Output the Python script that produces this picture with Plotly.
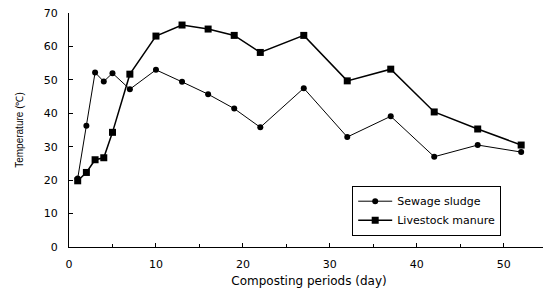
import plotly.graph_objects as go

days = [1, 2, 3, 4, 5, 7, 10, 13, 16, 19, 22, 27, 32, 37, 42, 47, 52]
sewage_sludge = [20.5, 36.3, 52.2, 49.5, 52.0, 47.2, 53.0, 49.4, 45.7, 41.4, 35.8, 47.5, 32.9, 39.1, 27.0, 30.5, 28.4]
livestock_manure = [19.8, 22.3, 26.1, 26.7, 34.3, 51.7, 63.1, 66.4, 65.2, 63.3, 58.2, 63.3, 49.7, 53.2, 40.4, 35.3, 30.5]

x_ticks = [0, 10, 20, 30, 40, 50]
y_ticks = [0, 10, 20, 30, 40, 50, 60, 70]

fig = go.Figure()
fig.add_trace(go.Scatter(
    x=days, y=sewage_sludge, name="Sewage sludge", mode="lines+markers",
    line=dict(color="black", width=1),
    marker=dict(symbol="circle", size=6, color="black"),
))
fig.add_trace(go.Scatter(
    x=days, y=livestock_manure, name="Livestock manure", mode="lines+markers",
    line=dict(color="black", width=1.5),
    marker=dict(symbol="square", size=7, color="black"),
))

font_family = "DejaVu Sans, Arial, sans-serif"
fig.update_layout(
    width=543, height=284,
    margin=dict(l=61, r=2, t=5, b=45),
    paper_bgcolor="white", plot_bgcolor="white",
    font=dict(family=font_family, color="black", size=11),
    showlegend=True,
    legend=dict(
        x=0.59, y=0.262, xanchor="left", yanchor="top",
        bordercolor="black", borderwidth=1, bgcolor="white",
        font=dict(size=11), tracegroupgap=0, itemwidth=34,
    ),
    xaxis=dict(
        range=[0, 55.2], tickvals=x_ticks, ticks="inside", ticklen=4,
        tickcolor="black", showline=True, linecolor="black", linewidth=1,
        showgrid=False, zeroline=False, automargin=False,
        ticklabelstandoff=7, ticklabeloverflow="allow",
        minor=dict(dtick=5, tick0=0, ticks="inside", ticklen=3, tickcolor="black"),
        title=dict(text="Composting periods (day)", font=dict(size=12), standoff=6),
        tickfont=dict(size=11),
    ),
    yaxis=dict(
        range=[0, 70], tickvals=y_ticks, ticks="inside", ticklen=4,
        tickcolor="black", showline=True, linecolor="black", linewidth=1,
        showgrid=False, zeroline=False, automargin=False,
        ticklabelstandoff=8, ticklabeloverflow="allow",
        title=dict(text="Temperature (℃)", font=dict(size=10, family="Liberation Sans Narrow, Liberation Sans, Arial"), standoff=18),
        tickfont=dict(size=11),
    ),
)

fig.write_html("out.html")
